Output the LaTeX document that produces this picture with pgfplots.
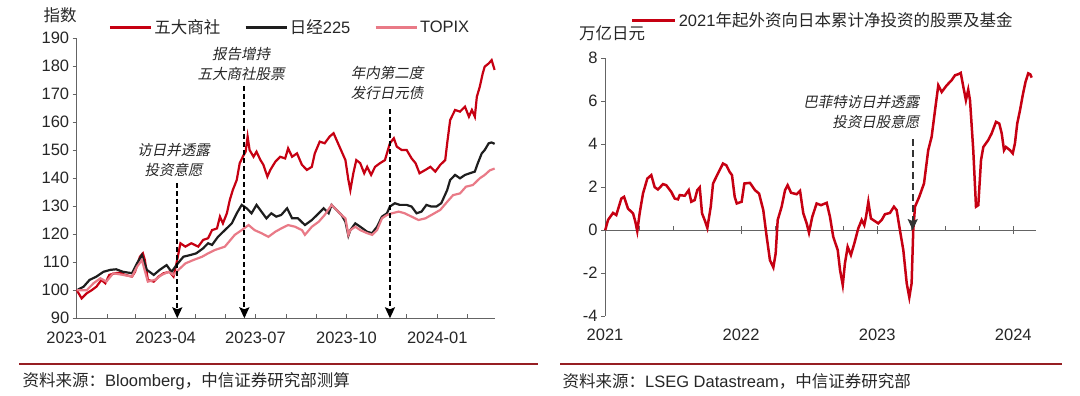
\documentclass[border=0pt]{standalone}
\usepackage{fontspec}
\setmainfont{Liberation Sans}
\newfontfamily\cjk{Noto Sans CJK SC}
\newfontfamily\cjkit[FakeSlant=0.2]{Noto Sans CJK SC}
\usepackage{pgfplots}
\pgfplotsset{compat=1.18}
\usetikzlibrary{arrows.meta}
\definecolor{cred}{RGB}{198,0,18}
\definecolor{cpink}{RGB}{233,122,135}
\definecolor{cblack}{RGB}{30,30,30}
\definecolor{axgray}{RGB}{100,100,100}
\definecolor{txt}{RGB}{38,38,38}
\definecolor{srcred}{RGB}{150,30,35}
\newcommand\fs{\fontsize{16.5bp}{19bp}\selectfont}
\newcommand\fa{\fontsize{14.5bp}{20bp}\selectfont}
\pgfplotsset{
  mystyle/.style={
    scale only axis,
    anchor=south west,
    axis line style={-, axgray, line width=0.9bp},
    tick style={axgray, line width=0.9bp},
    major tick length=4bp,
    ticklabel style={font=\fs, text=txt},
    /pgf/number format/assume math mode=true,
    /pgf/number format/1000 sep={},
    clip=false,
    legend cell align=left,
  }
}
\tikzset{annarrow/.style={black, line width=1.8bp, dash pattern=on 5bp off 3bp, -{Stealth[length=11bp,width=10bp,inset=2bp]}}}
\begin{document}
\begin{tikzpicture}
\useasboundingbox (0,0) rectangle (1080bp,396bp);
% ---------------- left panel ----------------
\begin{axis}[mystyle,
  at={(76.7bp,77.7bp)}, width=418.3bp, height=280bp,
  xmin=0, xmax=423.4, ymin=90, ymax=190,
  axis x line*=bottom, axis y line*=left,
  xtick={0,31,59,90,120,151,181,212,243,273,304,334,365,396},
  xticklabels={2023-01,,,2023-04,,,2023-07,,,2023-10,,,2024-01,},
  ytick={90,100,...,190},
  xtick align=inside, ytick align=outside,
  xticklabel style={yshift=-10bp},
  legend style={at={(0.076,1.0386)}, anchor=west, draw=none, fill=none, inner sep=0pt,
    font=\fs, text=txt, legend columns=3,
    /tikz/every even column/.append style={column sep=22bp}, nodes={inner sep=2bp}},
  legend image code/.code={\draw[#1, line width=2.6bp] (0bp,0bp) -- (41bp,0bp);},
]
\addplot[cred, line width=2.2bp] coordinates {
(0,100.1)(5,97.1)(10,98.9)(15,100)(20,101.3)(25,103.7)(29,102.5)(33,105.5)(39,106.1)(44,106.3)
(49,105.5)(56,104.9)(59,106.6)(64,112)(67,113.2)(69,110.8)(72,103.7)(78,103.1)(83,104.9)(88,106.1)
(94,106.6)(98,104.9)(101,109.6)(105,116.8)(110,115.6)(116,116.8)(123,115.6)(128,118)(133,118.6)
(137,121.5)(142,122.1)(145,126.3)(148,123.9)(152,127.5)(155,132.3)(158,135.8)(162,139.4)(165,145.4)
(169,148.3)(171,149.5)(173,154.9)(175,150.1)(179,147.7)(182,149.5)(186,146.5)(189,144.8)(193,140.6)
(196,143)(201,145.9)(206,147.7)(211,147.1)(214,150.7)(218,147.7)(223,148.9)(228,144.8)(233,143)
(238,144.1)(241,148.9)(246,153.1)(251,152.5)(256,154.9)(260,156.1)(263,153.7)(266,151.3)(272,146.5)
(275,139.4)(277,135.8)(280,141.8)(283,146.5)(287,145.4)(291,141.8)(294,144.1)(298,141.2)(302,144.1)
(307,145.4)(312,146.5)(317,152.5)(321,154.3)(324,151.3)(329,150.1)(334,150.1)(339,147.1)(343,145.4)
(347,141.8)(353,143)(358,144.1)(363,142.4)(368,144.8)(373,146.5)(375,152.5)(378,160.8)(383,164.4)
(388,163.8)(393,165.6)(397,162)(400,164.4)(403,162)(405,169.1)(408,172.7)(411,177.5)(413,179.9)
(417,181)(420,182.2)(423,178.7)};
\addlegendentry{\cjk 五大商社}
\addplot[cblack, line width=2.2bp] coordinates {
(0,100)(7,101.3)(13,103.7)(20,104.9)(27,106.6)(34,107.3)(40,107.5)(47,106.6)(56,106.1)(61,109.6)
(66,112.6)(71,107.3)(78,105.5)(84,107.3)(91,109)(96,106.6)(101,109)(108,112)(115,112.6)(121,113.2)
(128,115)(133,116.8)(137,116.2)(143,119.1)(150,121.5)(157,123.9)(162,127.5)(167,130.5)(172,129.3)
(177,127.5)(182,130.5)(187,128.1)(192,125.7)(197,127.5)(202,126.3)(207,126.9)(213,129.3)(218,125.7)
(224,125.7)(231,123.3)(238,125.1)(245,127.5)(250,129.3)(255,127.5)(258,130.5)(263,128.7)(268,126.9)
(272,124.5)(275,119.5)(277,121.5)(282,123.9)(287,122.7)(294,120.9)(299,120.4)(304,122.7)(309,126.3)
(314,127.5)(317,129.9)(322,131.1)(327,130.5)(334,130.5)(339,129.9)(344,127.5)(349,128.1)(354,130.5)
(359,129.9)(364,129.9)(369,131.1)(375,135.8)(378,139.4)(383,141.2)(388,140)(393,141.2)(398,141.8)
(403,142.4)(406,145.4)(410,148.9)(413,150.1)(417,152.5)(420,152.8)(423,152.3)};
\addlegendentry{{\cjk 日经}225}
\addplot[cpink, line width=2.2bp] coordinates {
(0,100)(10,100)(17,102.5)(24,104.3)(30,103.1)(37,106.1)(47,105.5)(56,104.9)(61,108.4)(66,110.8)
(72,103.1)(79,103.7)(86,105.5)(93,106.6)(98,105.5)(103,107.3)(110,109.6)(118,110.8)(127,112)
(133,113.2)(140,114.4)(150,115.6)(160,119.8)(167,121.5)(174,123.3)(180,121.5)(187,120.4)(194,119.1)
(201,120.9)(207,122.1)(214,123.3)(221,122.7)(228,121.5)(231,119.8)(238,122.7)(245,124.5)(251,126.9)
(258,130.5)(263,128.7)(268,126.9)(272,125.7)(275,119.8)(277,121.5)(282,122.7)(287,121.5)(294,120.4)
(299,119.8)(304,121.5)(309,125.7)(314,126.9)(319,127.5)(326,128.1)(332,127.5)(339,126.3)(346,125.1)
(353,125.7)(359,126.9)(368,128.7)(375,131.6)(381,134)(388,134.6)(394,137)(401,137.6)(408,140)
(413,141.2)(418,142.8)(423,143.5)};
\addlegendentry{TOPIX}
\draw[annarrow] (axis cs:101.8,138.2) -- (axis cs:101.8,90);
\draw[annarrow] (axis cs:169.7,173) -- (axis cs:169.7,90);
\draw[annarrow] (axis cs:317.1,164.6) -- (axis cs:317.1,90);
\end{axis}
% ---------------- right panel ----------------
\begin{axis}[mystyle,
  at={(605bp,80bp)}, width=431bp, height=257.7bp,
  xmin=2021, xmax=2024.167, ymin=-4, ymax=8,
  axis x line*=bottom, axis y line*=left,
  x axis line style={draw=none},
  xtick={2021,2022,2023,2024}, xticklabels={2021,2022,2023,2024},
  xtick style={draw=none},
  ytick={-4,-2,...,8},
  xtick align=inside, ytick align=outside,
  xticklabel style={yshift=-9bp},
  legend style={at={(0.0603,1.1467)}, anchor=west, draw=none, fill=none, inner sep=0pt,
    font=\fs, text=txt, nodes={inner sep=2bp}},
  legend image code/.code={\draw[#1, line width=2.6bp] (0bp,0bp) -- (43bp,0bp);},
]
\draw[axgray, line width=0.9bp] (axis cs:2021,0) -- (axis cs:2024.167,0);
\pgfplotsinvokeforeach{2021.25,2021.5,2021.75,2022.25,2022.5,2022.75,2023.25,2023.5,2023.75}{
  \draw[axgray, line width=0.9bp] (axis cs:#1,0) -- ++(0bp,4bp);}
\pgfplotsinvokeforeach{2022,2023,2024}{
  \draw[axgray, line width=0.9bp] (axis cs:#1,0) ++(0bp,-4bp) -- ++(0bp,8bp);}
\addplot[cred, line width=2.5bp] coordinates {
(2021.002,0)(2021.022,0.47)(2021.059,0.8)(2021.083,0.7)(2021.120,1.47)(2021.140,1.55)(2021.169,1.0)
(2021.206,0.78)(2021.223,0.39)(2021.237,-0.05)(2021.255,0.8)(2021.279,1.7)(2021.311,2.4)(2021.340,2.56)
(2021.365,2.0)(2021.389,1.89)(2021.426,2.14)(2021.450,2.09)(2021.487,1.78)(2021.512,1.47)(2021.536,1.43)
(2021.549,1.63)(2021.586,1.6)(2021.615,1.86)(2021.634,1.32)(2021.659,1.4)(2021.678,1.86)(2021.696,1.99)
(2021.713,0.78)(2021.737,0.39)(2021.752,0.1)(2021.777,1.09)(2021.794,2.17)(2021.830,2.64)(2021.867,3.1)
(2021.891,3.02)(2021.916,2.71)(2021.933,2.56)(2021.953,1.55)(2021.968,1.24)(2022.004,1.32)(2022.024,2.17)
(2022.065,2.2)(2022.102,1.86)(2022.132,1.7)(2022.163,0.93)(2022.188,-0.31)(2022.212,-1.4)(2022.237,-1.74)
(2022.254,-1.09)(2022.269,0.47)(2022.298,1.09)(2022.323,1.86)(2022.342,2.09)(2022.367,1.74)(2022.408,1.67)
(2022.433,1.83)(2022.457,0.78)(2022.482,0.31)(2022.499,-0.12)(2022.523,0.62)(2022.555,1.24)(2022.587,1.16)
(2022.629,1.27)(2022.653,0.62)(2022.677,-0.31)(2022.710,-0.93)(2022.727,-1.86)(2022.747,-2.56)
(2022.763,-1.55)(2022.783,-0.78)(2022.807,-1.16)(2022.832,-0.62)(2022.861,0.08)(2022.886,0.47)
(2022.905,0.23)(2022.918,0.62)(2022.935,1.32)(2022.954,0.54)(2022.971,0.47)(2023.008,0.31)(2023.033,0.47)
(2023.057,0.74)(2023.094,0.8)(2023.123,1.09)(2023.143,0.93)(2023.167,0)(2023.192,-0.93)(2023.217,-2.48)
(2023.236,-3.13)(2023.253,-2.48)(2023.265,0)(2023.278,1.09)(2023.309,1.55)(2023.344,2.17)(2023.375,3.72)
(2023.400,4.34)(2023.425,5.58)(2023.449,6.74)(2023.474,6.43)(2023.511,6.74)(2023.547,6.98)(2023.572,7.21)
(2023.596,7.26)(2023.614,7.32)(2023.633,6.67)(2023.652,6.05)(2023.669,6.54)(2023.682,6.05)(2023.706,3.72)
(2023.726,1.09)(2023.743,1.16)(2023.763,3.26)(2023.780,3.87)(2023.816,4.19)(2023.841,4.5)(2023.873,5.04)
(2023.897,4.96)(2023.915,4.5)(2023.932,3.72)(2023.946,3.87)(2023.976,3.72)(2023.996,3.57)(2024.012,4.03)
(2024.029,4.96)(2024.05,5.6)(2024.07,6.3)(2024.09,6.9)(2024.11,7.3)(2024.125,7.25)(2024.135,7.1)};
\addlegendentry{2021{\cjk 年起外资向日本累计净投资的股票及基金}}
\draw[black!80, line width=1.8bp, dash pattern=on 7bp off 4bp, -{Stealth[length=11bp,width=10bp,inset=2bp]}]
  (axis cs:2023.261,4.22) -- (axis cs:2023.261,0);
\end{axis}
% ---------------- texts ----------------
\node[font={\cjk\fs}, text=txt] at (60bp,381bp) {指数};
\node[font={\cjk\fs}, text=txt] at (612bp,362.5bp) {万亿日元};
\node[font={\cjkit\fa}, text=txt, align=center] at (173.5bp,236bp) {访日并透露\\投资意愿};
\node[font={\cjkit\fa}, text=txt, align=center] at (241bp,332.5bp) {报告增持\\五大商社股票};
\node[font={\cjkit\fa}, text=txt, align=center] at (387bp,312.7bp) {年内第二度\\发行日元债};
\node[font={\cjkit\fa}, text=txt, align=right, anchor=east] at (923bp,284.3bp) {巴菲特访日并透露\\投资日股意愿};
\draw[srcred, line width=1.3bp] (19bp,32bp) -- (538bp,32bp);
\draw[srcred, line width=1.3bp] (560bp,32bp) -- (1062bp,32bp);
\node[anchor=west, text=txt, font=\fs, inner sep=0pt] at (22.4bp,15bp) {{\cjk 资料来源：}Bloomberg{\cjk ，中信证券研究部测算}};
\node[anchor=west, text=txt, font=\fs, inner sep=0pt] at (562.4bp,15bp) {{\cjk 资料来源：}LSEG Datastream{\cjk ，中信证券研究部}};
\end{tikzpicture}
\end{document}
